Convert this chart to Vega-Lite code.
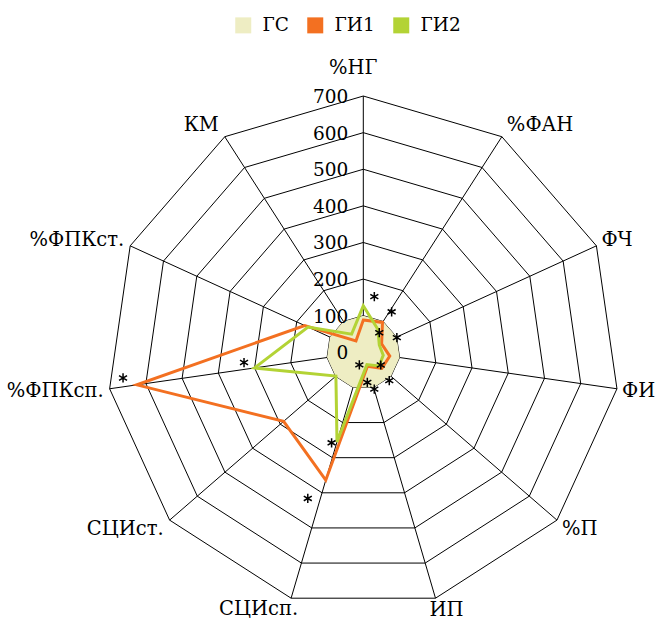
{
  "$schema": "https://vega.github.io/schema/vega-lite/v6.json",
  "width": 658,
  "height": 620,
  "padding": 0,
  "autosize": {"type": "none"},
  "background": "white",
  "config": {"view": {"stroke": null}, "font": "DejaVu Serif", "text": {"font": "DejaVu Serif", "fontSize": 19.5, "color": "#000"}},
  "datasets": {
    "axes": [
      {"i": 0, "axis": "%НГ", "rings": [100, 200, 300, 400, 500, 600, 700]},
      {"i": 1, "axis": "%ФАН", "rings": [100, 200, 300, 400, 500, 600, 700]},
      {"i": 2, "axis": "ФЧ", "rings": [100, 200, 300, 400, 500, 600, 700]},
      {"i": 3, "axis": "ФИ", "rings": [100, 200, 300, 400, 500, 600, 700]},
      {"i": 4, "axis": "%П", "rings": [100, 200, 300, 400, 500, 600, 700]},
      {"i": 5, "axis": "ИП", "rings": [100, 200, 300, 400, 500, 600, 700]},
      {"i": 6, "axis": "СЦИсп.", "rings": [100, 200, 300, 400, 500, 600, 700]},
      {"i": 7, "axis": "СЦИст.", "rings": [100, 200, 300, 400, 500, 600, 700]},
      {"i": 8, "axis": "%ФПКсп.", "rings": [100, 200, 300, 400, 500, 600, 700]},
      {"i": 9, "axis": "%ФПКст.", "rings": [100, 200, 300, 400, 500, 600, 700]},
      {"i": 10, "axis": "КМ", "rings": [100, 200, 300, 400, 500, 600, 700]}
    ],
    "series": [
      {"s": "ГС", "i": 0, "axis": "%НГ", "v": 100},
      {"s": "ГС", "i": 1, "axis": "%ФАН", "v": 100},
      {"s": "ГС", "i": 2, "axis": "ФЧ", "v": 100},
      {"s": "ГС", "i": 3, "axis": "ФИ", "v": 100},
      {"s": "ГС", "i": 4, "axis": "%П", "v": 100},
      {"s": "ГС", "i": 5, "axis": "ИП", "v": 100},
      {"s": "ГС", "i": 6, "axis": "СЦИсп.", "v": 100},
      {"s": "ГС", "i": 7, "axis": "СЦИст.", "v": 100},
      {"s": "ГС", "i": 8, "axis": "%ФПКсп.", "v": 100},
      {"s": "ГС", "i": 9, "axis": "%ФПКст.", "v": 100},
      {"s": "ГС", "i": 10, "axis": "КМ", "v": 100},
      {"s": "ГИ1", "i": 0, "axis": "%НГ", "v": 88},
      {"s": "ГИ1", "i": 1, "axis": "%ФАН", "v": 97},
      {"s": "ГИ1", "i": 2, "axis": "ФЧ", "v": 55},
      {"s": "ГИ1", "i": 3, "axis": "ФИ", "v": 73},
      {"s": "ГИ1", "i": 4, "axis": "%П", "v": 67},
      {"s": "ГИ1", "i": 5, "axis": "ИП", "v": 40},
      {"s": "ГИ1", "i": 6, "axis": "СЦИсп.", "v": 364},
      {"s": "ГИ1", "i": 7, "axis": "СЦИст.", "v": 288},
      {"s": "ГИ1", "i": 8, "axis": "%ФПКсп.", "v": 625},
      {"s": "ГИ1", "i": 9, "axis": "%ФПКст.", "v": 176},
      {"s": "ГИ1", "i": 10, "axis": "КМ", "v": 37},
      {"s": "ГИ2", "i": 0, "axis": "%НГ", "v": 127},
      {"s": "ГИ2", "i": 1, "axis": "%ФАН", "v": 74},
      {"s": "ГИ2", "i": 2, "axis": "ФЧ", "v": 48},
      {"s": "ГИ2", "i": 3, "axis": "ФИ", "v": 55},
      {"s": "ГИ2", "i": 4, "axis": "%П", "v": 57},
      {"s": "ГИ2", "i": 5, "axis": "ИП", "v": 35},
      {"s": "ГИ2", "i": 6, "axis": "СЦИсп.", "v": 255},
      {"s": "ГИ2", "i": 7, "axis": "СЦИст.", "v": 99},
      {"s": "ГИ2", "i": 8, "axis": "%ФПКсп.", "v": 300},
      {"s": "ГИ2", "i": 9, "axis": "%ФПКст.", "v": 166},
      {"s": "ГИ2", "i": 10, "axis": "КМ", "v": 59}
    ],
    "ticks": [{"t": 0}, {"t": 100}, {"t": 200}, {"t": 300}, {"t": 400}, {"t": 500}, {"t": 600}, {"t": 700}],
    "stars": [
      {"ang": 11.2, "r": 155},
      {"ang": 35, "r": 135},
      {"ang": 39.2, "r": 69},
      {"ang": 66.4, "r": 100},
      {"ang": 126, "r": 59},
      {"ang": 137.5, "r": 105},
      {"ang": 172.4, "r": 83},
      {"ang": 163.4, "r": 105},
      {"ang": 197.5, "r": 36},
      {"ang": 199.3, "r": 262},
      {"ang": 200.8, "r": 427},
      {"ang": 263.9, "r": 660},
      {"ang": 265.1, "r": 327}
    ]
  },
  "layer": [
    {
      "data": {"name": "axes"},
      "transform": [
        {"flatten": ["rings"]},
        {"calculate": "datum.i*2*PI/11", "as": "a"},
        {"calculate": "datum.rings*sin(datum.a)", "as": "x"},
        {"calculate": "datum.rings*cos(datum.a)", "as": "y"}
      ],
      "mark": {"type": "line", "interpolate": "linear-closed", "stroke": "#000", "strokeWidth": 1},
      "encoding": {
        "x": {"field": "x", "type": "quantitative", "scale": {"domain": [-992.35, 804.97], "nice": false, "zero": false}, "axis": null},
        "y": {"field": "y", "type": "quantitative", "scale": {"domain": [-731.22, 962.31], "nice": false, "zero": false}, "axis": null},
        "detail": {"field": "rings", "type": "nominal"},
        "order": {"field": "i", "type": "quantitative"}
      }
    },
    {
      "data": {"name": "axes"},
      "transform": [
        {"calculate": "datum.i*2*PI/11", "as": "a"},
        {"calculate": "700*sin(datum.a)", "as": "x"},
        {"calculate": "700*cos(datum.a)", "as": "y"}
      ],
      "mark": {"type": "rule", "stroke": "#000", "strokeWidth": 1},
      "encoding": {
        "x": {"field": "x", "type": "quantitative"},
        "y": {"field": "y", "type": "quantitative"},
        "x2": {"datum": 0},
        "y2": {"datum": 0}
      }
    },
    {
      "data": {"name": "series"},
      "transform": [
        {"filter": "datum.s === 'ГС'"},
        {"calculate": "datum.i*2*PI/11", "as": "a"},
        {"calculate": "datum.v*sin(datum.a)", "as": "x"},
        {"calculate": "datum.v*cos(datum.a)", "as": "y"}
      ],
      "mark": {"type": "line", "interpolate": "linear-closed", "strokeWidth": 0},
      "encoding": {
        "x": {"field": "x", "type": "quantitative"},
        "y": {"field": "y", "type": "quantitative"},
        "order": {"field": "i", "type": "quantitative"},
        "fill": {
          "field": "s", "type": "nominal",
          "scale": {"domain": ["ГС", "ГИ1", "ГИ2"], "range": ["#EEEDC3", "#F37021", "#B3D335"]},
          "legend": {
            "orient": "none", "legendX": 234, "legendY": 16, "direction": "horizontal", "title": null,
            "symbolType": "square", "symbolSize": 256, "symbolStrokeWidth": 0, "symbolOpacity": 1,
            "labelFont": "DejaVu Serif", "labelFontSize": 18.5, "labelColor": "#000",
            "labelOffset": 10, "columnPadding": 17, "padding": 0
          }
        }
      }
    },
    {
      "data": {"name": "series"},
      "transform": [
        {"filter": "datum.s !== 'ГС'"},
        {"calculate": "datum.i*2*PI/11", "as": "a"},
        {"calculate": "datum.v*sin(datum.a)", "as": "x"},
        {"calculate": "datum.v*cos(datum.a)", "as": "y"}
      ],
      "mark": {"type": "line", "interpolate": "linear-closed", "strokeWidth": 3},
      "encoding": {
        "x": {"field": "x", "type": "quantitative"},
        "y": {"field": "y", "type": "quantitative"},
        "order": {"field": "i", "type": "quantitative"},
        "detail": {"field": "s", "type": "nominal"},
        "stroke": {"field": "s", "type": "nominal", "scale": {"domain": ["ГИ1", "ГИ2"], "range": ["#F37021", "#B3D335"]}, "legend": null}
      }
    },
    {
      "data": {"name": "ticks"},
      "mark": {"type": "text", "align": "right", "baseline": "middle", "dx": -15, "dy": 1, "fontSize": 18.5},
      "encoding": {
        "x": {"datum": 0},
        "y": {"field": "t", "type": "quantitative"},
        "text": {"field": "t", "type": "quantitative"}
      }
    },
    {
      "data": {"name": "axes"},
      "transform": [
        {"filter": "datum.i === 0"},
        {"calculate": "datum.i*2*PI/11", "as": "a"},
        {"calculate": "700*sin(datum.a)", "as": "x"},
        {"calculate": "700*cos(datum.a)", "as": "y"}
      ],
      "mark": {"type": "text", "align": "center", "baseline": "middle", "dx": -10, "dy": -28},
      "encoding": {
        "x": {"field": "x", "type": "quantitative"},
        "y": {"field": "y", "type": "quantitative"},
        "text": {"field": "axis"}
      }
    },
    {
      "data": {"name": "axes"},
      "transform": [
        {"filter": "datum.i >= 1 && datum.i <= 4"},
        {"calculate": "datum.i*2*PI/11", "as": "a"},
        {"calculate": "700*sin(datum.a)", "as": "x"},
        {"calculate": "738.2*cos(datum.a)", "as": "y"}
      ],
      "mark": {"type": "text", "align": "left", "baseline": "middle", "dx": 5},
      "encoding": {
        "x": {"field": "x", "type": "quantitative"},
        "y": {"field": "y", "type": "quantitative"},
        "text": {"field": "axis"}
      }
    },
    {
      "data": {"name": "axes"},
      "transform": [
        {"filter": "datum.i === 5"},
        {"calculate": "datum.i*2*PI/11", "as": "a"},
        {"calculate": "700*sin(datum.a)", "as": "x"},
        {"calculate": "700*cos(datum.a)", "as": "y"}
      ],
      "mark": {"type": "text", "align": "left", "baseline": "top", "dx": -6, "dy": 3},
      "encoding": {
        "x": {"field": "x", "type": "quantitative"},
        "y": {"field": "y", "type": "quantitative"},
        "text": {"field": "axis"}
      }
    },
    {
      "data": {"name": "axes"},
      "transform": [
        {"filter": "datum.i === 6"},
        {"calculate": "datum.i*2*PI/11", "as": "a"},
        {"calculate": "700*sin(datum.a)", "as": "x"},
        {"calculate": "700*cos(datum.a)", "as": "y"}
      ],
      "mark": {"type": "text", "align": "right", "baseline": "top", "dx": 7, "dy": 2},
      "encoding": {
        "x": {"field": "x", "type": "quantitative"},
        "y": {"field": "y", "type": "quantitative"},
        "text": {"field": "axis"}
      }
    },
    {
      "data": {"name": "axes"},
      "transform": [
        {"filter": "datum.i >= 7"},
        {"calculate": "datum.i*2*PI/11", "as": "a"},
        {"calculate": "700*sin(datum.a)", "as": "x"},
        {"calculate": "738.2*cos(datum.a)", "as": "y"}
      ],
      "mark": {"type": "text", "align": "right", "baseline": "middle", "dx": -6},
      "encoding": {
        "x": {"field": "x", "type": "quantitative"},
        "y": {"field": "y", "type": "quantitative"},
        "text": {"field": "axis"}
      }
    },
    {
      "data": {"name": "stars"},
      "transform": [
        {"calculate": "datum.ang*PI/180", "as": "a"},
        {"calculate": "datum.r*sin(datum.a)", "as": "x"},
        {"calculate": "datum.r*cos(datum.a)", "as": "y"}
      ],
      "mark": {"type": "point", "shape": "M0,-1L0,1M-0.87,-0.5L0.87,0.5M-0.87,0.5L0.87,-0.5", "filled": false, "stroke": "#000", "strokeWidth": 1.5, "size": 85, "opacity": 1},
      "encoding": {
        "x": {"field": "x", "type": "quantitative"},
        "y": {"field": "y", "type": "quantitative"}
      }
    }
  ]
}
